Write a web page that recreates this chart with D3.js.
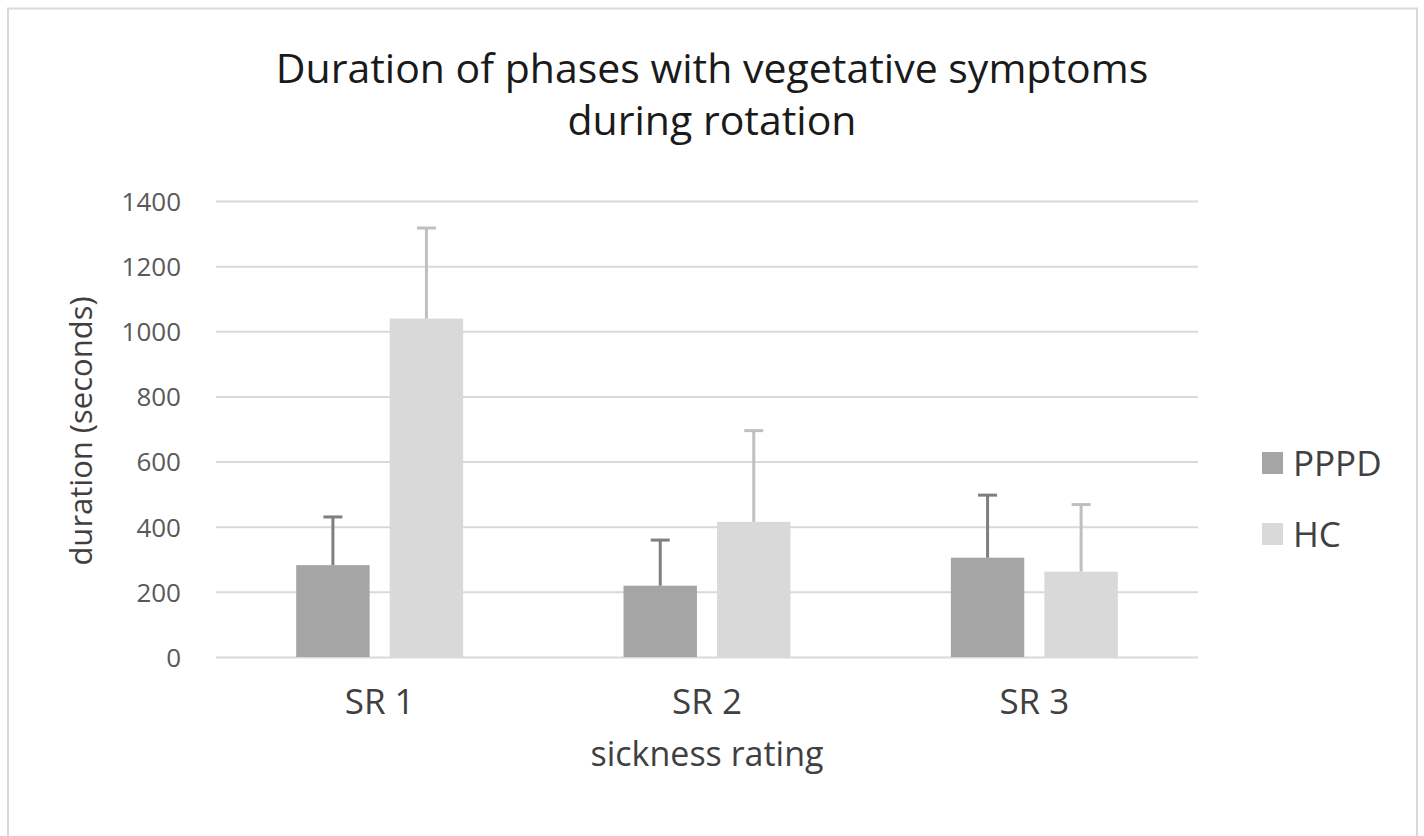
<!DOCTYPE html>
<html>
<head>
<meta charset="utf-8">
<script src="https://cdn.jsdelivr.net/npm/d3@7"></script>
<style>
  html, body { margin: 0; padding: 0; background: #fff; }
  svg { display: block; font-family: "Open Sans", "Noto Sans", sans-serif; }
</style>
</head>
<body>
<svg id="chart" width="1424" height="836"></svg>
<script>
const categories = ["SR 1", "SR 2", "SR 3"];
const seriesNames = ["PPPD", "HC"];
const pppdValues = [282, 219, 305];
const pppdErrors = [148, 140, 192];
const hcValues = [1039, 415, 262];
const hcErrors = [278, 280, 206];
const yTicks = [0, 200, 400, 600, 800, 1000, 1200, 1400];
const titleLines = ["Duration of phases with vegetative symptoms", "during rotation"];
const xAxisTitle = "sickness rating";
const yAxisTitle = "duration (seconds)";

const barColors = { PPPD: "#a5a5a5", HC: "#d9d9d9" };
const errColors = { PPPD: "#7f7f7f", HC: "#bfbfbf" };

const data = categories.map((c, i) => ({
  cat: c,
  values: [
    { s: "PPPD", v: pppdValues[i], e: pppdErrors[i] },
    { s: "HC", v: hcValues[i], e: hcErrors[i] }
  ]
}));

const svg = d3.select("#chart");

// outer border
svg.append("rect")
  .attr("x", 8).attr("y", 8.5).attr("width", 1409).attr("height", 850)
  .attr("fill", "#fff").attr("stroke", "#d9d9d9").attr("stroke-width", 2);

const plot = { left: 216, right: 1198, top: 201, bottom: 657 };

const y = d3.scaleLinear().domain([0, 1400]).range([plot.bottom, plot.top]);
const x0 = d3.scaleBand().domain(categories).range([plot.left, plot.right])
  .paddingInner(0.49).paddingOuter(0.245);
const x1 = d3.scaleBand().domain(seriesNames).range([0, x0.bandwidth()])
  .paddingInner(0.215).paddingOuter(0);

// gridlines
const grid = d3.axisLeft(y).tickValues(yTicks).tickSize(-(plot.right - plot.left)).tickFormat("");
svg.append("g").attr("transform", `translate(${plot.left},0)`).call(grid)
  .call(g => g.select(".domain").remove())
  .call(g => g.selectAll("line").attr("stroke", "#d9d9d9").attr("stroke-width", 2));

// y tick labels
const yAxis = d3.axisLeft(y).tickValues(yTicks).tickSize(0).tickPadding(0).tickFormat(d3.format("d"));
svg.append("g").attr("transform", `translate(${181},0)`).call(yAxis)
  .call(g => g.select(".domain").remove())
  .call(g => g.selectAll("text")
    .attr("font-family", "Open Sans").attr("font-size", 26).attr("fill", "#595959").attr("dy", "0.36em"));

// bars
const groups = svg.append("g").selectAll("g").data(data).join("g")
  .attr("transform", d => `translate(${x0(d.cat)},0)`);

groups.selectAll("rect").data(d => d.values).join("rect")
  .attr("x", d => x1(d.s))
  .attr("width", x1.bandwidth())
  .attr("y", d => y(d.v))
  .attr("height", d => y(0) - y(d.v))
  .attr("fill", d => barColors[d.s]);

// error bars
const capW = 19;
groups.selectAll("line.err").data(d => d.values).join("line")
  .attr("class", "err")
  .attr("x1", d => x1(d.s) + x1.bandwidth() / 2)
  .attr("x2", d => x1(d.s) + x1.bandwidth() / 2)
  .attr("y1", d => y(d.v))
  .attr("y2", d => y(d.v + d.e))
  .attr("stroke", d => errColors[d.s]).attr("stroke-width", 3);
groups.selectAll("line.cap").data(d => d.values).join("line")
  .attr("class", "cap")
  .attr("x1", d => x1(d.s) + x1.bandwidth() / 2 - capW / 2)
  .attr("x2", d => x1(d.s) + x1.bandwidth() / 2 + capW / 2)
  .attr("y1", d => y(d.v + d.e))
  .attr("y2", d => y(d.v + d.e))
  .attr("stroke", d => errColors[d.s]).attr("stroke-width", 3);

// x axis labels
const xAxis = d3.axisBottom(x0).tickSize(0).tickPadding(0);
svg.append("g").attr("transform", `translate(0,${plot.bottom})`).call(xAxis)
  .call(g => g.select(".domain").remove())
  .call(g => g.selectAll("text")
    .attr("font-family", "Open Sans").attr("font-size", 35).attr("fill", "#404040")
    .attr("dy", null).attr("y", 57));

// axis titles
svg.append("text").attr("x", (plot.left + plot.right) / 2).attr("y", 766)
  .attr("text-anchor", "middle").attr("font-size", 34).attr("fill", "#404040")
  .text(xAxisTitle);
svg.append("text").attr("transform", `translate(92,${(plot.top + plot.bottom) / 2 + 2}) rotate(-90)`)
  .attr("text-anchor", "middle").attr("font-size", 31).attr("fill", "#404040")
  .text(yAxisTitle);

// title
svg.append("g").selectAll("text").data(titleLines).join("text")
  .attr("x", 712).attr("y", (d, i) => 83 + i * 52)
  .attr("text-anchor", "middle").attr("font-size", 41).attr("fill", "#1a1a1a")
  .text(d => d);

// legend
const legend = svg.append("g").selectAll("g").data(seriesNames).join("g")
  .attr("transform", (d, i) => `translate(1262,${452 + i * 71})`);
legend.append("rect").attr("width", 21).attr("height", 22).attr("fill", d => barColors[d]);
legend.append("text").attr("x", 31).attr("y", 24)
  .attr("font-size", 35).attr("fill", "#404040").text(d => d);
</script>
</body>
</html>
